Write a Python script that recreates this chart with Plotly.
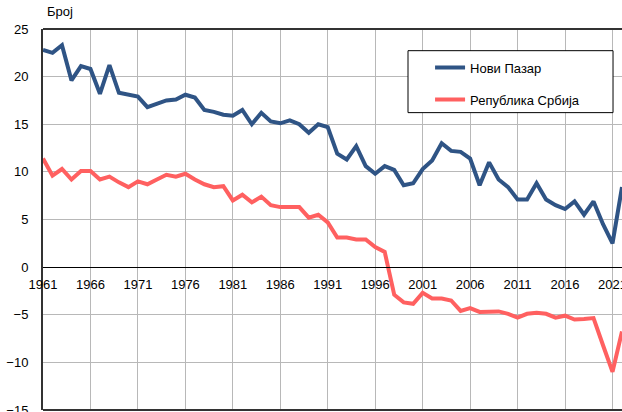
import plotly.graph_objects as go

years = list(range(1961, 2023))
novi_pazar = [22.8, 22.5, 23.3, 19.6, 21.1, 20.8, 18.2, 21.2, 18.3, 18.1,
              17.9, 16.8, 17.1, 17.5, 17.6, 18.1, 17.8, 16.5, 16.3, 16.0,
              15.9, 16.5, 15.0, 16.2, 15.3, 15.1, 15.4, 15.0, 14.1, 15.0,
              14.7, 11.9, 11.3, 12.7, 10.6, 9.8, 10.6, 10.2, 8.6, 8.8,
              10.3, 11.2, 13.0, 12.2, 12.1, 11.4, 8.6, 11.0, 9.2, 8.4,
              7.1, 7.1, 8.8, 7.1, 6.5, 6.1, 6.9, 5.5, 6.9, 4.5,
              2.5, 8.4]
srbija = [11.4, 9.6, 10.3, 9.2, 10.1, 10.1, 9.2, 9.5, 8.9, 8.4,
          9.0, 8.7, 9.2, 9.7, 9.5, 9.8, 9.2, 8.7, 8.4, 8.5,
          7.0, 7.6, 6.8, 7.4, 6.5, 6.3, 6.3, 6.3, 5.2, 5.5,
          4.7, 3.1, 3.1, 2.9, 2.9, 2.1, 1.6, -2.9, -3.7, -3.85,
          -2.7, -3.3, -3.3, -3.5, -4.6, -4.3, -4.7, -4.65, -4.65, -4.9,
          -5.3, -4.9, -4.8, -4.9, -5.3, -5.1, -5.5, -5.45, -5.35, -8.2,
          -11.0, -6.75]
x_ticks = list(range(1961, 2022, 5))
y_ticks = list(range(-15, 26, 5))
series_names = ["Нови Пазар", "Република Србија"]
y_label = "Број"

BLUE = "#2F5485"
RED = "#FF6060"
FONT = "Liberation Sans, Arial, sans-serif"

fig = go.Figure()
fig.add_trace(go.Scatter(x=years, y=novi_pazar, mode="lines", name=series_names[0],
                         line=dict(color=BLUE, width=4), legendgroup="a"))
fig.add_trace(go.Scatter(x=years, y=srbija, mode="lines", name=series_names[1],
                         line=dict(color=RED, width=4), legendgroup="b"))

fig.update_layout(
    width=622, height=412,
    margin=dict(l=43, r=0, t=29, b=2, autoexpand=False),
    paper_bgcolor="white", plot_bgcolor="white",
    font=dict(family=FONT, size=13, color="black"),
    showlegend=True,
    legend=dict(x=0.6685, y=0.938, xanchor="left", yanchor="top",
                bgcolor="rgba(0,0,0,0)", borderwidth=0,
                traceorder="grouped", tracegroupgap=12,
                font=dict(family=FONT, size=13, color="black")),
    xaxis=dict(range=[1961, 2022], tickvals=x_ticks, ticktext=[str(t) for t in x_ticks],
               showgrid=True, gridcolor="#B8B8B8", gridwidth=1, automargin=False,
               zeroline=False, showline=True, linecolor="black", linewidth=1,
               anchor="free", position=(0 - (-15)) / 40, ticks="",
               ticklabeloverflow="allow",
               ticklabelstandoff=5, tickfont=dict(size=13)),
    yaxis=dict(range=[-15, 25], tickvals=y_ticks, automargin=False,
               showgrid=True, gridcolor="#B8B8B8", gridwidth=1,
               zeroline=False, showline=True, linecolor="#333333", linewidth=2,
               ticklabeloverflow="allow",
               ticks="", ticklabelstandoff=10, tickfont=dict(size=13)),
    shapes=[
        dict(type="line", xref="paper", yref="paper", x0=0, x1=1.02, y0=1, y1=1,
             line=dict(color="#333333", width=2)),
        dict(type="line", xref="paper", yref="paper", x0=0, x1=1.02, y0=0, y1=0,
             line=dict(color="#333333", width=2)),
        dict(type="rect", xref="paper", yref="paper", x0=0.6304, x1=0.9845,
             y0=0.7805, y1=0.9431, fillcolor="white", layer="above",
             line=dict(color="black", width=1)),
    ],
    annotations=[
        dict(text=y_label, xref="paper", yref="paper", x=0.003, y=1.045,
             xanchor="left", yanchor="middle", showarrow=False,
             font=dict(family=FONT, size=13, color="black")),
    ],
)

fig.write_html("out.html", config={"displayModeBar": False})

with open("out.html", "r", encoding="utf-8") as f:
    html = f.read()
html = html.replace("<body>", '<body style="margin:0;padding:0;overflow:hidden">', 1)
html = html.replace("<head>", "<head><style>html,body{margin:0;padding:0;}</style>", 1)
with open("out.html", "w", encoding="utf-8") as f:
    f.write(html)
